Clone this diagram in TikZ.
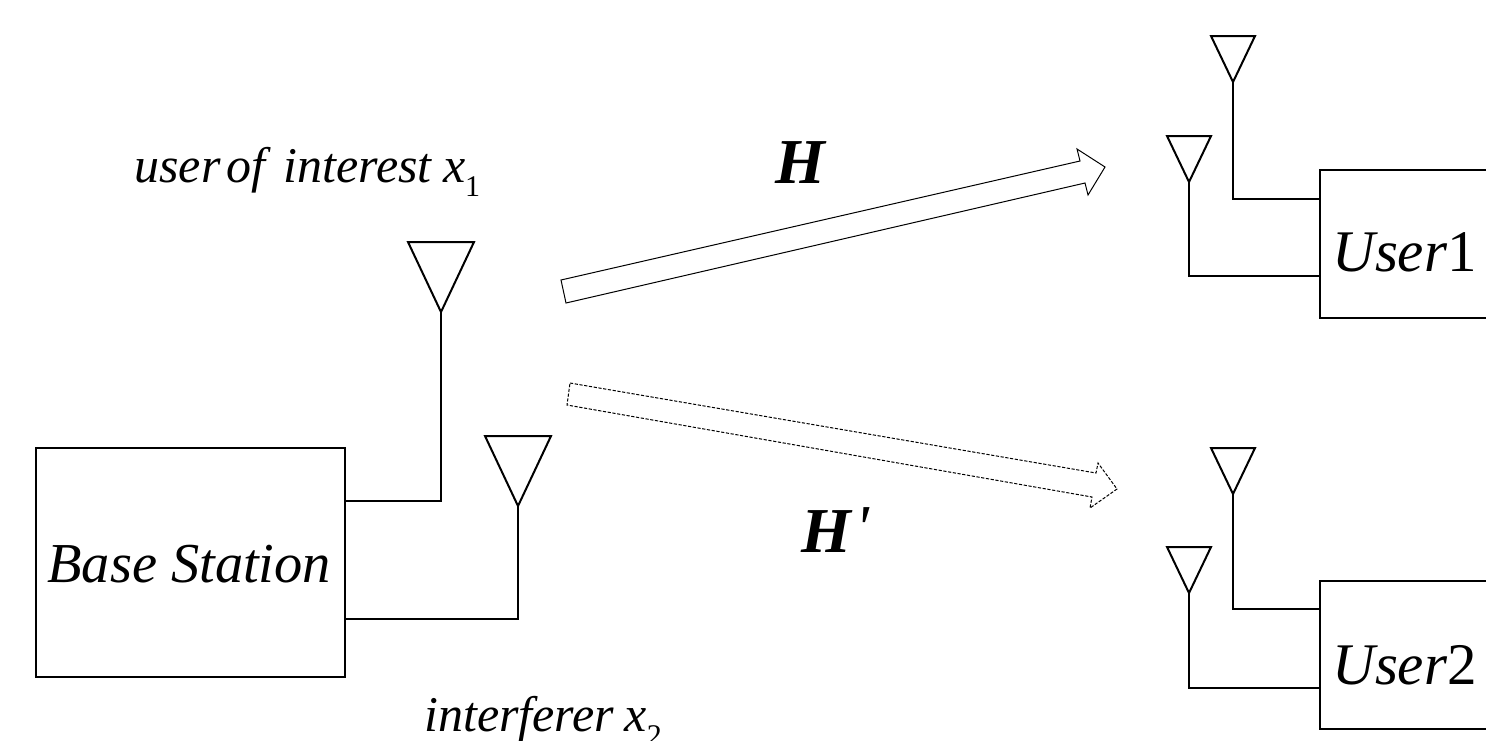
\documentclass[tikz,border=0pt]{standalone}
\usepackage{fontspec}
\setmainfont{Liberation Serif}
\begin{document}
\begin{tikzpicture}[x=0.5pt,y=-0.5pt,
  blockbox/.style={draw=black,line width=1pt,minimum width=0pt,inner sep=0pt,rectangle},
  antenna/.style={draw=black,line width=1pt,line join=miter},
  wire/.style={draw=black,line width=1pt},
  fatarrow/.style={draw=black,line width=0.5pt,fill=white},
  fatdash/.style={draw=black,line width=0.5pt,dash pattern=on 1.6pt off 0.8pt},
  lab/.style={inner sep=0pt,anchor=base west,font=\itshape},
  boldlab/.style={inner sep=0pt,anchor=base west,font=\bfseries\itshape\fontsize{32}{32}\selectfont}]
\useasboundingbox (0,0) rectangle (1486,740);
\clip (0,0) rectangle (1486,740);
% Boxes
\node[blockbox,minimum width=154.5pt,minimum height=114.5pt] (bs) at (190.5,562.5) {};
\node[blockbox,minimum width=100pt,minimum height=74pt] (u1) at (1420,243.5) {};
\node[blockbox,minimum width=100pt,minimum height=74pt] (u2) at (1420,655) {};
% Antennas
\node[inner sep=0pt] (a1t) at (441,312) {};
\node[inner sep=0pt] (a2t) at (518,506) {};
\node[inner sep=0pt] (b1t) at (1233,82) {};
\node[inner sep=0pt] (b2t) at (1189,182) {};
\node[inner sep=0pt] (c1t) at (1233,494) {};
\node[inner sep=0pt] (c2t) at (1189,593) {};
\draw[antenna] (408,242) -- (474,242) -- (a1t.center) -- cycle;
\draw[antenna] (485,436) -- (551,436) -- (a2t.center) -- cycle;
\draw[antenna] (1211,36) -- (1255,36) -- (b1t.center) -- cycle;
\draw[antenna] (1167,136) -- (1211,136) -- (b2t.center) -- cycle;
\draw[antenna] (1211,448) -- (1255,448) -- (c1t.center) -- cycle;
\draw[antenna] (1167,547) -- (1211,547) -- (c2t.center) -- cycle;
% Connection points on the boxes
\coordinate (bsa) at (345,501);
\coordinate (bsb) at (345,619);
\coordinate (u1a) at (1320,199);
\coordinate (u1b) at (1320,276);
\coordinate (u2a) at (1320,609);
\coordinate (u2b) at (1320,688);
\draw[wire] (a1t.center) |- (bsa);
\draw[wire] (a2t.center) |- (bsb);
\draw[wire] (b1t.center) |- (u1a);
\draw[wire] (b2t.center) |- (u1b);
\draw[wire] (c1t.center) |- (u2a);
\draw[wire] (c2t.center) |- (u2b);
% Fat arrows
\draw[fatarrow] (561,280) -- (1080,161) -- (1077,149) -- (1105,167) -- (1088,195) -- (1085,183) -- (566,303) -- cycle;
\draw[fatdash] (570,383) -- (1096,473) -- (1098,463) -- (1117,489) -- (1090,508) -- (1092,497) -- (567,405) -- cycle;
% Labels
\node[lab,font=\itshape\fontsize{28.2}{28.2}\selectfont] (bstxt) at (47,582) {Base Station};
\node[lab,font=\itshape\fontsize{25}{25}\selectfont] (utxt) at (134,182) {user\hspace{-3.5pt} of\hspace{3pt} interest\hspace{-0.5pt} x\raisebox{-7pt}{\fontsize{15}{15}\selectfont\upshape 1}};
\node[lab,font=\itshape\fontsize{25}{25}\selectfont] (itxt) at (424,731) {interferer\hspace{-1pt} x\raisebox{-7pt}{\fontsize{15}{15}\selectfont\upshape 2}};
\node[boldlab] (h1) at (775,183) {H};
\node[boldlab] (h2) at (801,552) {H\hspace{2pt}\raisebox{1.5pt}{\mdseries\textquotesingle}};
\node[lab,font=\itshape\fontsize{29.5}{29.5}\selectfont] (u1t) at (1332,271) {User\upshape 1};
\node[lab,font=\itshape\fontsize{29.5}{29.5}\selectfont] (u2t) at (1332,684) {User\upshape 2};
\end{tikzpicture}
\end{document}
